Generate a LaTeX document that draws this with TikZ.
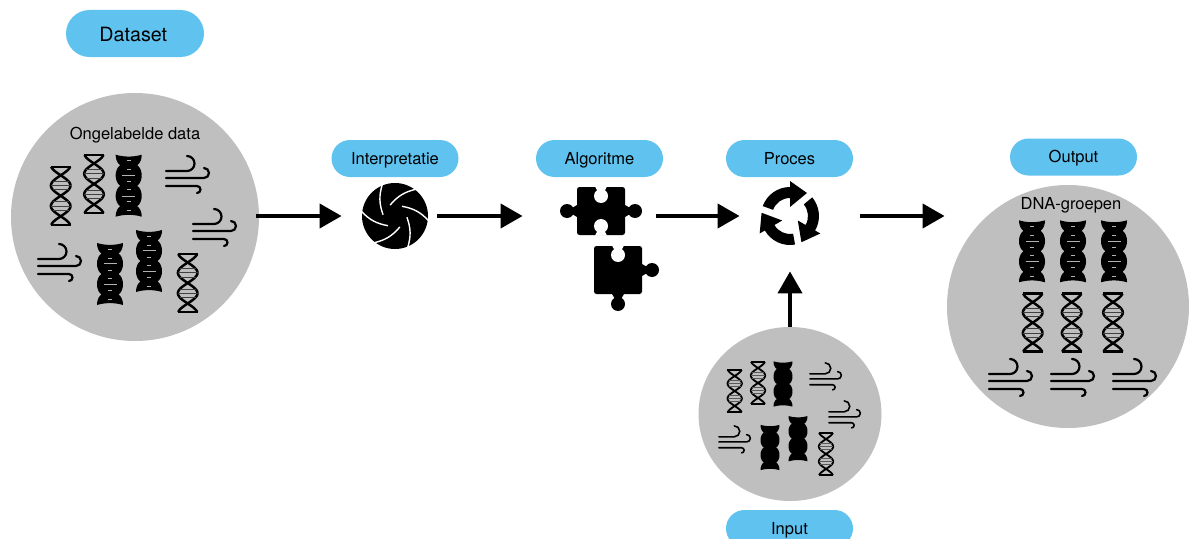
\documentclass[tikz,border=0pt]{standalone}
\usepackage{fontspec}
\setmainfont{TeX Gyre Heros}
\usetikzlibrary{arrows.meta,shapes.geometric,shapes.misc}
\definecolor{pillblue}{HTML}{5FC2EF}
\definecolor{bubblegrey}{HTML}{BFBFBF}
\tikzset{%
    % Specifications for style of nodes:
    pill/.style = {
        rounded rectangle, fill=pillblue, inner sep=0pt,
        minimum width=25.4mm, minimum height=7.4mm,
        text height=6.4pt, text depth=0pt,
        font=\fontsize{9.4}{11}\selectfont
    },
    bubble/.style = {ellipse, fill=bubblegrey, inner sep=0pt},
    bubbletext/.style = {inner sep=0pt, text height=6.4pt, text depth=0pt, font=\fontsize{9.4}{11}\selectfont},
    iconspot/.style = {circle, inner sep=0pt, minimum size=13.2mm},
    flow/.style = {-{Triangle[length=12.5pt,width=13.5pt]}, line width=2.6pt},
    % Specifications for the small icons:
    strand/.style = {line width=1.4pt},
    rung/.style = {line width=.45pt, black!75},
    breeze/.style = {line width=1.25pt, line cap=round},
    smallicon/.style = {scale=.73,
        strand/.style = {line width=1.05pt},
        rung/.style = {line width=.35pt, black!65},
        breeze/.style = {line width=.9pt, line cap=round}
    },
    dnaline/.pic = {
        \draw[strand] plot[domain=-29:29,samples=60,variable=\vv] ({9.8*sin(\vv*180/20.5)},{\vv});
        \draw[strand] plot[domain=-29:29,samples=60,variable=\vv] ({-9.8*sin(\vv*180/20.5)},{\vv});
        \draw[strand] (-10,29) -- (10,29) (-10,-29) -- (10,-29);
        \foreach \ry/\rw in {6/8,10.25/9.8,14.5/8,-6/8,-10.25/9.8,-14.5/8}
            \draw[rung] (-\rw,\ry) -- (\rw,\ry);
    },
    dnablock/.pic = {
        \fill plot[domain=-31:31,samples=80,variable=\vv] ({7.5+5.5*sqrt(abs(sin(\vv*180/20.5)))},{\vv})
            .. controls (5,28.5) and (-5,28.5) .. (-13,31)
            -- plot[domain=31:-31,samples=80,variable=\vv] ({-7.5-5.5*sqrt(abs(sin(\vv*180/20.5)))},{\vv})
            .. controls (-5,-28.5) and (5,-28.5) .. cycle;
    },
    dnafull/.pic = {
        \pic {dnablock};
        \foreach \ry in {-10.25,10.25}
            \draw[gray!60,line width=.45pt] (-6.5,\ry) -- (6.5,\ry);
        \foreach \ry in {-25,-16,-4,4,16,25}
            \draw[gray!60,line width=.45pt] (-2,\ry) -- (2,\ry);
    },
    wind/.pic = {
        \draw[breeze] (-22,3) -- (-1,3) arc[start angle=-90,end angle=90,radius=7.5];
        \draw[breeze] (-22,-4) -- (16,-4) arc[start angle=-90,end angle=90,radius=5];
        \draw[breeze] (-22,-12) -- (9,-12) arc[start angle=90,end angle=-90,radius=3.5];
    },
    shutter/.pic = {
        \fill (0,0) circle[radius=33];
        \foreach \ang in {0,60,...,300}
            \draw[white,line width=.8pt] ({\ang+52}:34) to[bend right=18] ({\ang+114}:12);
    },
    puzzleknob/.pic = {
        \fill (24,-6) -- (29,-3) -- (29,3) -- (24,6) -- cycle;
        \fill (34,0) circle[radius=7];
    },
    puzzlegap/.pic = {
        \fill[white] (-6,24.5) -- (-3,19) -- (3,19) -- (6,24.5) -- cycle;
        \fill[white] (0,15) circle[radius=7];
    },
    puzzleone/.pic = {
        \fill[rounded corners=.5mm] (-24,-24) rectangle (24,24);
        \pic {puzzleknob};
        \pic[rotate=180] {puzzleknob};
        \pic {puzzlegap};
        \pic[rotate=180] {puzzlegap};
    },
    puzzletwo/.pic = {
        \fill[rounded corners=.5mm] (-24,-24) rectangle (24,24);
        \pic {puzzleknob};
        \pic[rotate=-90] {puzzleknob};
        \pic {puzzlegap};
    },
    recycle/.pic = {
        \foreach \ang in {0,-120,-240} {
            \fill[rotate=\ang] (160:29) arc[start angle=160,end angle=90,radius=29]
                -- (0,35) -- (17,23) -- (0,9) -- (0,18)
                arc[start angle=90,end angle=160,radius=18] -- cycle;
        }
    }
}

\begin{document}
\begin{tikzpicture}[x=.2mm,y=.2mm]
    \useasboundingbox (0,0) rectangle (1189,-539);

    % grey bubbles
    \node[bubble, minimum width=49.6mm, minimum height=49.6mm] (data) at (135,-217) {};
    \node[bubble, minimum width=48.4mm, minimum height=48.6mm] (output) at (1068,-306.5) {};
    \node[bubble, minimum width=36.6mm, minimum height=34.8mm] (input) at (790,-414) {};

    % spots for the icons
    \node[iconspot] (shutter) at (395,-216) {};
    \node[iconspot, minimum size=16.4mm] (algoritme) at (601,-211) {};
    \node[iconspot] (proces) at (790,-216) {};

    % labels
    \node[pill, minimum width=27.6mm, minimum height=9.4mm, text height=9.4pt, font=\fontsize{11.2}{13}\selectfont] (datasetlabel) at (135,-33.5) {Dataset\kern.7mm};
    \node[pill] (interpretatielabel) at (395,-158.5) {Interpretatie};
    \node[pill] (algoritmelabel) at (599.5,-158.5) {Algoritme};
    \node[pill] (proceslabel) at (789.5,-158.5) {Proces};
    \node[pill] (outputlabel) at (1073.5,-157) {Output};
    \node[pill] (inputlabel) at (789.5,-528.5) {Input};
    \node[bubbletext] (datatext) at (135,-133.7) {Ongelabelde data};
    \node[bubbletext] (outputtext) at (1071,-203.7) {DNA-groepen};

    % icons in the data bubble
    \foreach \x/\y in {60.7/195.8, 94/184, 187.7/283}
        \pic at (\x,-\y) {dnaline};
    \foreach \x/\y in {128.7/185.7, 110/274, 149/261}
        \pic at (\x,-\y) {dnafull};
    \foreach \x/\y in {188/174, 215/227, 60/262}
        \pic at (\x,-\y) {wind};

    % icons in the input bubble
    \foreach \x/\y in {734.7/391, 758/383, 826/454}
        \pic[smallicon] at (\x,-\y) {dnaline};
    \foreach \x/\y in {783/384, 770/447.5, 798/438.7}
        \pic[smallicon] at (\x,-\y) {dnablock};
    \foreach \x/\y in {826/376, 845/414, 735/439}
        \pic[smallicon] at (\x,-\y) {wind};

    % icons in the output bubble
    \foreach \x in {1032,1073,1114}
        \pic at (\x,-251.3) {dnafull};
    \foreach \x in {1032.7,1071.7,1113}
        \pic at (\x,-322.7) {dnaline};
    \foreach \x in {1011,1073,1135}
        \pic at (\x,-377) {wind};

    % icons of the steps
    \pic at (shutter) {shutter};
    \pic at (algoritme) {puzzleone};
    \pic at (618,-270) {puzzletwo};
    \pic at (proces) {recycle};

    % connectors
    \draw[flow, shorten <=-.6mm, shorten >=4mm] (data.east |- shutter) -- (shutter.west);
    \draw[flow, shorten <=1.8mm, shorten >=7.4mm] (shutter.east) -- (shutter.east -| algoritme.west);
    \draw[flow, shorten <=2.8mm, shorten >=3.4mm] (algoritme.east |- proces) -- (proces.west);
    \draw[flow, shorten <=7.4mm, shorten >=.4mm] (proces.east) -- (proces.east -| output.west);
    \draw[flow, shorten >=4.4mm] (input.north) -- (proces.south);
\end{tikzpicture}
\end{document}
